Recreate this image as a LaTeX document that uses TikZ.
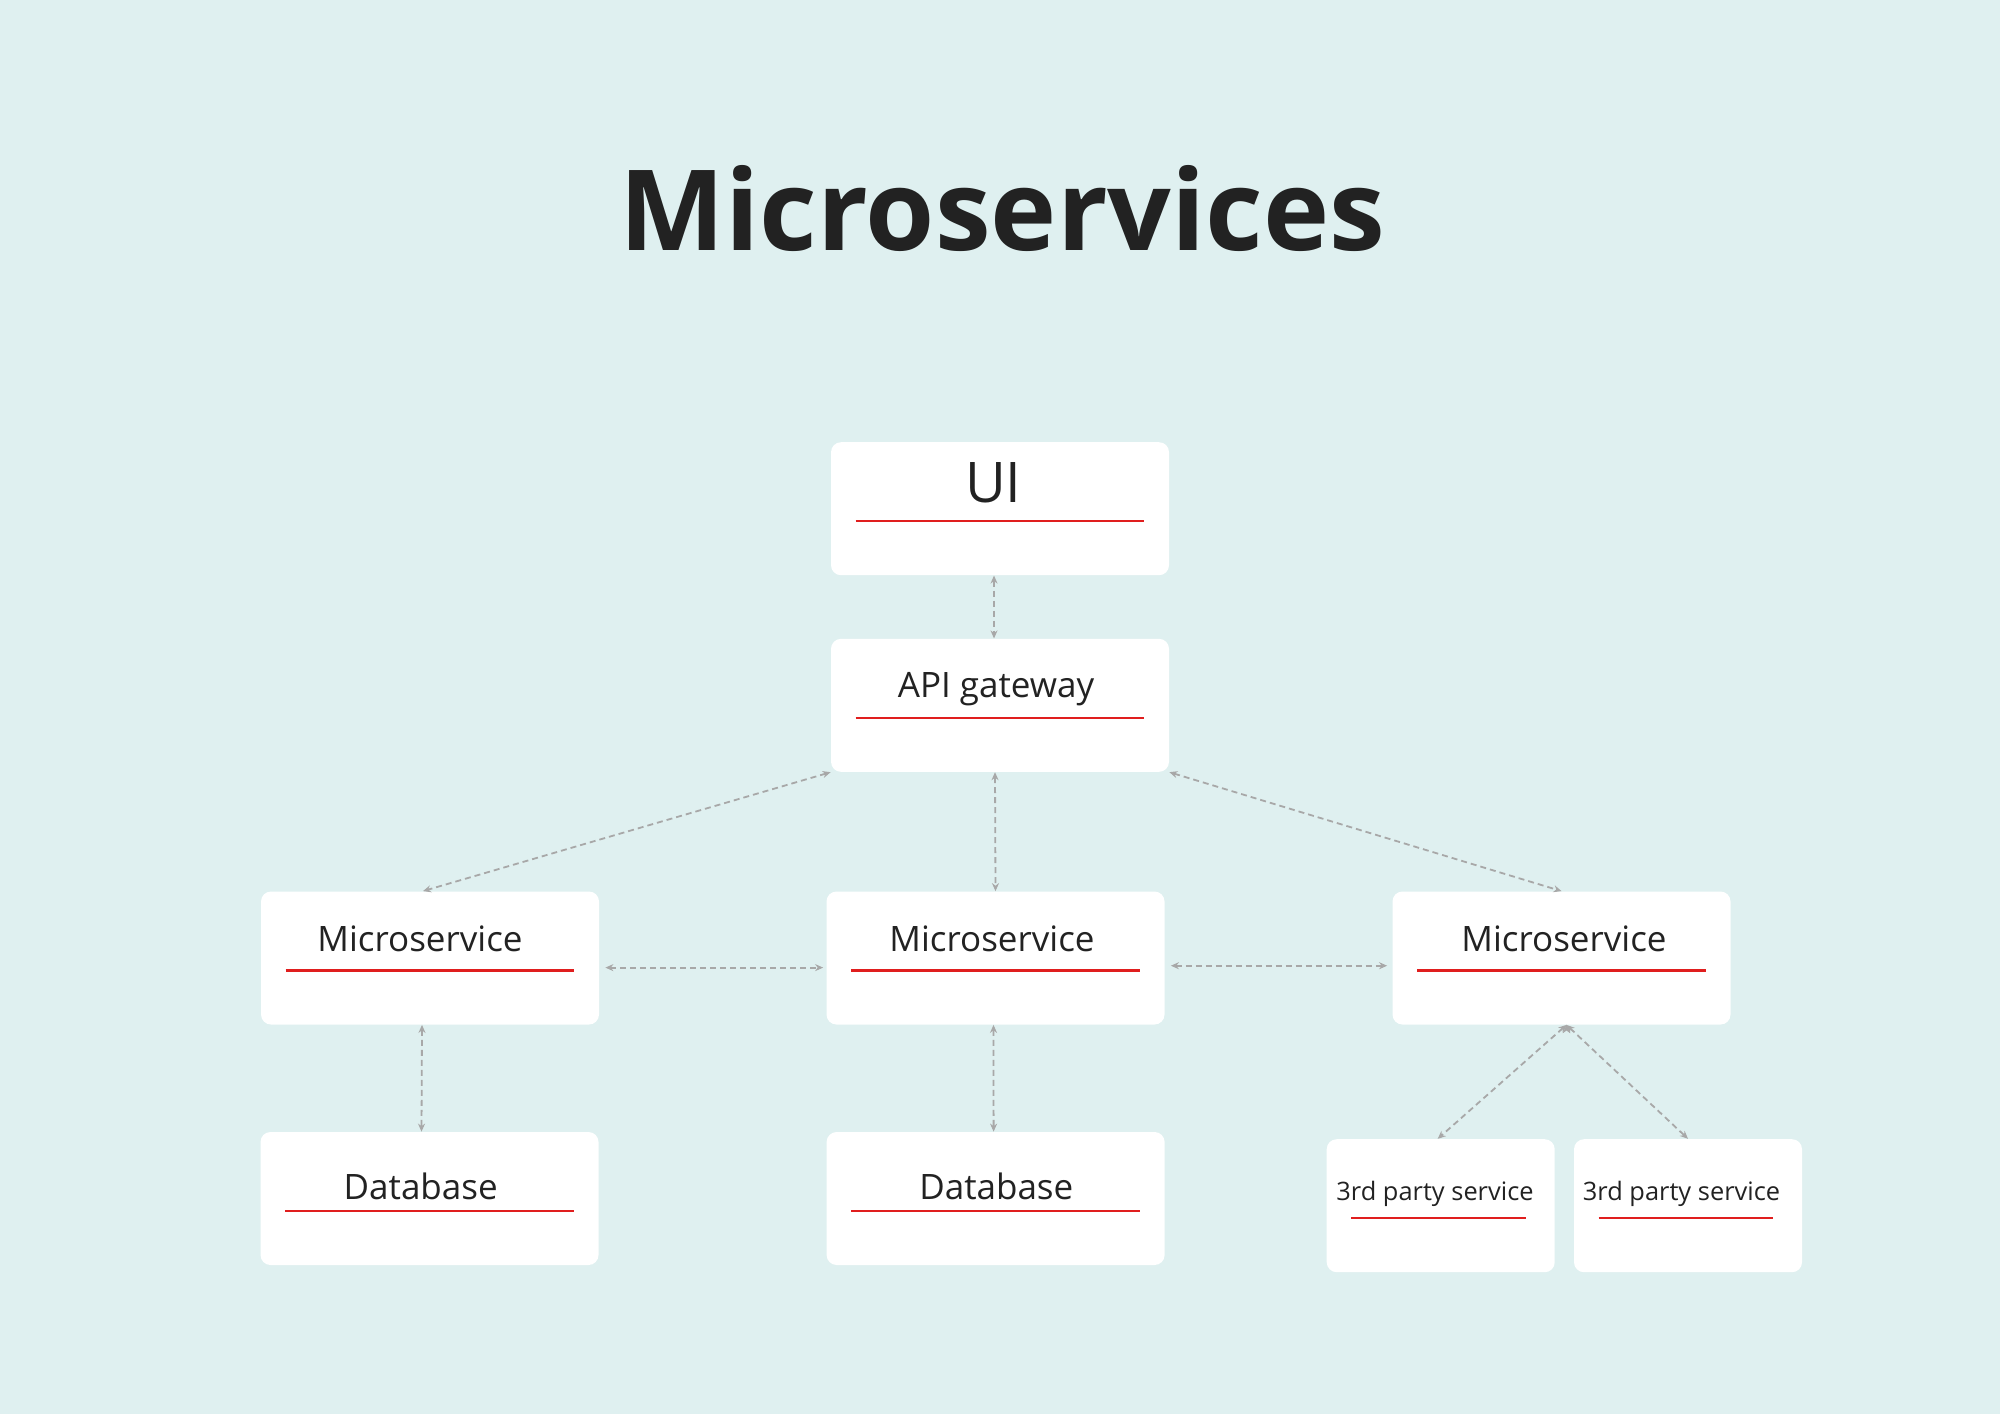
\documentclass[tikz,border=0pt]{standalone}
\usepackage{fontspec}
\setmainfont{Open Sans}
\usetikzlibrary{arrows.meta}
\definecolor{bgteal}{RGB}{223,240,240}
\definecolor{inkgray}{RGB}{34,34,34}
\definecolor{rulered}{RGB}{224,30,30}
\definecolor{linkgray}{RGB}{168,168,168}

\begin{document}
\begin{tikzpicture}[x=0.5pt,y=-0.5pt,
  card/.style={fill=white,rounded corners=5pt,minimum width=169pt,minimum height=66.5pt,inner sep=0pt},
  smallcard/.style={card,minimum width=114pt},
  caption/.style={anchor=base,text=inkgray,inner sep=0pt,font=\fontsize{17.5}{21}\selectfont},
  smallcaption/.style={caption,font=\fontsize{12.7}{15}\selectfont},
  redrule/.style={draw=rulered,line width=1.2pt},
  link/.style={draw=linkgray,line width=0.9pt,dash pattern=on 3pt off 2pt,
    {Stealth[length=4pt,width=3.5pt]}-{Stealth[length=4pt,width=3.5pt]}}]
  \useasboundingbox (0,0) rectangle (2000,1414);
  \fill[bgteal] (0,0) rectangle (2000,1414);

  \node[anchor=base,text=inkgray,inner sep=0pt,font=\bfseries\fontsize{56}{60}\selectfont] (title) at (1002.6,250.7) {Microservices};

  % cards
  \node[card] (ui)  at (1000,508.7) {};
  \node[card] (api) at (1000,705.3) {};
  \node[card] (msa) at (430,958) {};
  \node[card] (msb) at (995.5,958) {};
  \node[card] (msc) at (1561.5,958) {};
  \node[card] (dba) at (429.5,1198.5) {};
  \node[card] (dbb) at (995.6,1198.5) {};
  \node[smallcard] (tpa) at (1440.7,1205.7) {};
  \node[smallcard] (tpb) at (1688,1205.7) {};

  \foreach \n in {ui,api,msa,msb,msc,dba,dbb}
    \draw[redrule] ([xshift=12.5pt,yshift=-6.2pt]\n.west) -- ([xshift=-12.5pt,yshift=-6.2pt]\n.east);
  \foreach \n in {tpa,tpb}
    \draw[redrule] ([xshift=12.5pt,yshift=-6.2pt]\n.west) -- ([xshift=-14.5pt,yshift=-6.2pt]\n.east);

  % captions
  \node[caption,font=\fontsize{28}{32}\selectfont] (ui-txt) at (993.3,502.7) {UI};
  \node[caption] (api-txt) at (996,697.7) {API gateway};
  \node[caption] (msa-txt) at (420,951) {Microservice};
  \node[caption] (msb-txt) at (992,951) {Microservice};
  \node[caption] (msc-txt) at (1564,951) {Microservice};
  \node[caption] (dba-txt) at (420.7,1199) {Database};
  \node[caption] (dbb-txt) at (996.3,1199) {Database};
  \node[smallcaption] (tpa-txt) at (1435,1200) {3rd party service};
  \node[smallcaption] (tpb-txt) at (1681.5,1200) {3rd party service};

  % links
  \path[link]
    ([xshift=-3pt]ui.south) edge ([xshift=-3pt]api.north)
    (api.south west) edge ([xshift=-3.5pt]msa.north)
    ([xshift=-2.5pt]api.south) edge (msb.north)
    (api.south east) edge (msc.north)
    ([xshift=3pt,yshift=-4.8pt]msa.east) edge ([xshift=-1.5pt,yshift=-4.8pt]msb.west)
    ([xshift=3pt,yshift=-3.85pt]msb.east) edge ([xshift=-2.5pt,yshift=-3.85pt]msc.west)
    ([xshift=-4pt]msa.south) edge ([xshift=-4pt]dba.north)
    ([xshift=-1pt]msb.south) edge ([xshift=-1pt]dbb.north)
    ([xshift=2.5pt]msc.south) edge ([xshift=-1.5pt]tpa.north)
    ([xshift=2.5pt]msc.south) edge (tpb.north);
\end{tikzpicture}
\end{document}
